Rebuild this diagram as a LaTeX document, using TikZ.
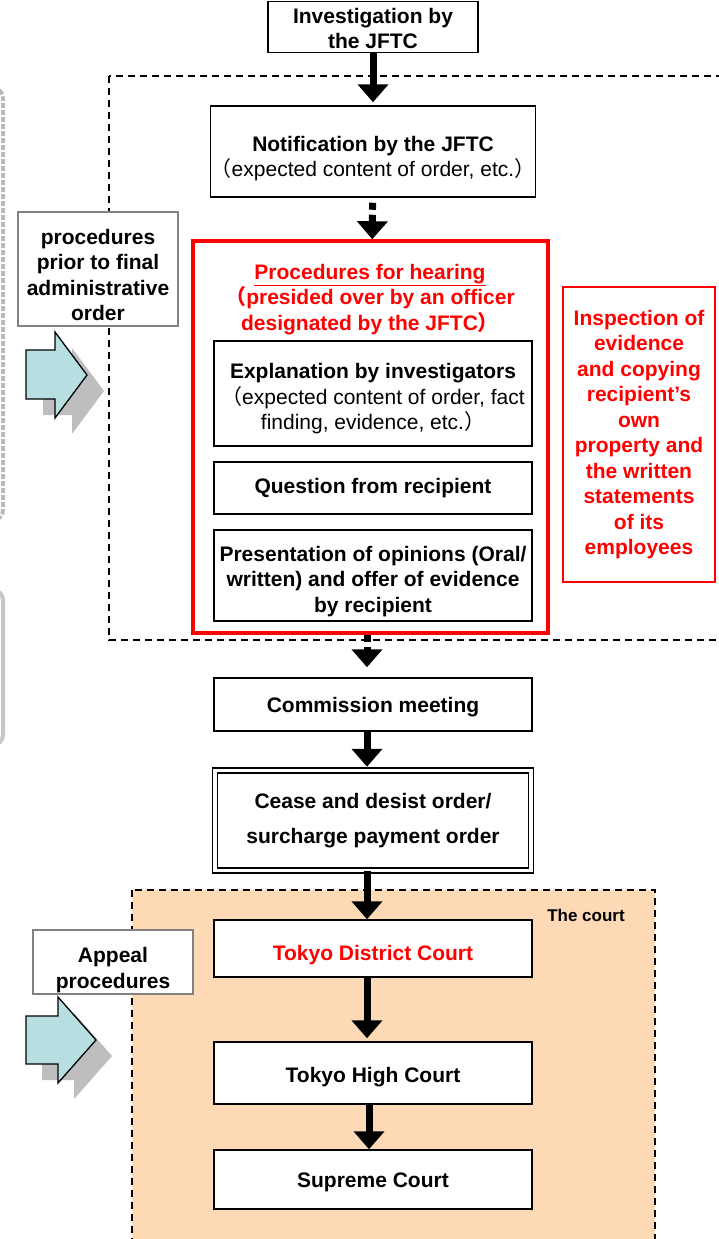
\documentclass[tikz,border=0pt]{standalone}
\usepackage{fontspec}
\setmainfont{Liberation Sans}
\newfontfamily\cjk{Noto Sans CJK JP}
\usetikzlibrary{arrows.meta,positioning}

\definecolor{hearred}{RGB}{255,0,0}
\definecolor{courtbg}{RGB}{253,217,181}
\definecolor{arrowblue}{RGB}{183,222,224}
\definecolor{shadowgray}{RGB}{190,190,190}
\definecolor{edgegray}{RGB}{130,130,130}
\newcommand{\fwlp}{{\cjk （}}
\newcommand{\fwrp}{{\cjk ）}}
\newcommand{\dropstrut}[1]{\rule{0pt}{#1}}

\tikzset{
  stage/.style={draw, line width=1.5pt, fill=white, align=center, minimum width=318pt, inner sep=0pt},
  sidebox/.style={draw=edgegray, line width=1.2pt, fill=white, align=center, inner sep=0pt},
  flow/.style={line width=7pt, -{Triangle[width=30pt,length=18pt]}, shorten >=3pt},
  dotflow/.style={flow, dash pattern=on 7pt off 5pt},
  dashline/.style={dash pattern=on 7pt off 5pt, line width=1.6pt},
}

\begin{document}
\begin{tikzpicture}[x=1pt,y=-1pt,node distance=10pt,on grid,
    font=\fontsize{21}{25.5}\selectfont\bfseries]
  \useasboundingbox (0,0) rectangle (719,1239);

  % frames round the stages
  \begin{scope}
    \clip (0,0) rectangle (719,1239);
    \draw[edgegray!55, line width=4pt, dash pattern=on 5pt off 2pt, rounded corners=10pt] (-40,88) rectangle (3,520);
    \draw[edgegray!45, line width=4pt, rounded corners=10pt] (-40,590) rectangle (3,745);
    \draw[dashline] (109,76) rectangle (740,640);
    \fill[courtbg] (132,890) rectangle (655,1260);
    \draw[dashline] (132,890) rectangle (655,1260);
  \end{scope}

  \node[draw=hearred, line width=3.5pt, minimum width=355pt, minimum height=392pt] (hearing) at (370.5,437) {};
  \node[text=hearred, align=center] (hearingtitle) at (370,297)
    {\dropstrut{20pt}\underline{Procedures for hearing}\\\fwlp presided over by an officer\\designated by the JFTC\fwrp};

  \node[stage, minimum width=210pt, minimum height=51pt] (invest) at (373,27) {\dropstrut{18pt}Investigation by\\the JFTC};
  \node[stage, minimum width=323pt, minimum height=91pt, below=124.5pt of invest] (notif)
    {\dropstrut{29.5pt}Notification by the JFTC\\{\mdseries\fwlp expected content of order, etc.\fwrp}};
  \node[stage, minimum height=105pt, below=242pt of notif] (explain)
    {\dropstrut{25.5pt}Explanation by investigators\\{\mdseries\fwlp expected content of order, fact}\\{\mdseries finding, evidence, etc.\fwrp}};
  \node[stage, minimum height=52pt, below=94.5pt of explain] (question) {Question from recipient};
  \node[stage, minimum height=91pt, below=87.5pt of question] (present)
    {\dropstrut{27pt}Presentation of opinions (Oral/\\written) and offer of evidence\\by recipient};
  \node[stage, minimum height=53pt, below=129pt of present] (commission) {\dropstrut{19.5pt}Commission meeting};
  \node[stage, double, double distance=3.5pt, minimum width=316pt, minimum height=100pt, below=116pt of commission] (cease)
    {Cease and desist order/\\[9.5pt]surcharge payment order};
  \node[stage, minimum height=57pt, text=hearred, below=128pt of cease] (district) {\dropstrut{29pt}Tokyo District Court};
  \node[stage, minimum height=62pt, below=124.5pt of district] (high) {\dropstrut{23pt}Tokyo High Court};
  \node[stage, minimum height=59pt, below=106.5pt of high] (supreme) {\dropstrut{21pt}Supreme Court};

  \node[draw=hearred, line width=1.2pt, text=hearred, align=center, minimum width=152pt, minimum height=295pt] (inspect) at (639,434.5)
    {Inspection of\\evidence\\and copying\\recipient's\\own\\property and\\the written\\statements\\of its\\employees};

  \node[sidebox, minimum width=160pt, minimum height=114pt] (prior) at (98,269)
    {\dropstrut{27pt}procedures\\prior to final\\administrative\\order};
  \node[sidebox, minimum width=160pt, minimum height=64pt] (appeal) at (113,962) {\dropstrut{31pt}Appeal\\procedures};
  \node[font=\fontsize{17}{20}\selectfont\bfseries] (courtlabel) at (586,915) {The court};

  % block arrows with shadow
  \fill[shadowgray, shift={(17,16)}] (26,350) -- (55,350) -- (55,332) -- (87,375) -- (55,418) -- (55,399) -- (26,399) -- cycle;
  \filldraw[fill=arrowblue, line width=1.3pt] (26,350) -- (55,350) -- (55,332) -- (87,375) -- (55,418) -- (55,399) -- (26,399) -- cycle;
  \fill[shadowgray, shift={(16,16)}] (26,1016) -- (58,1016) -- (58,997) -- (96,1040) -- (58,1083) -- (58,1064) -- (26,1064) -- cycle;
  \filldraw[fill=arrowblue, line width=1.3pt] (26,1016) -- (58,1016) -- (58,997) -- (96,1040) -- (58,1083) -- (58,1064) -- (26,1064) -- cycle;

  \draw[flow] (invest) -- (notif);
  \draw[dotflow, dash phase=7pt, shorten >=0pt] (notif) -- (hearing);
  \draw[dotflow, shorten >=10pt] ([xshift=-6pt]commission.north |- hearing.south) -- ([xshift=-6pt]commission.north);
  \draw[flow] ([xshift=-6pt]commission.south) -- ([xshift=-6pt]cease.north);
  \draw[flow, shorten >=0pt] ([xshift=-6pt]cease.south) -- ([xshift=-6pt]district.north);
  \draw[flow] ([xshift=-6pt]district.south) -- ([xshift=-6pt]high.north);
  \draw[flow, shorten >=0pt] ([xshift=-4pt]high.south) -- ([xshift=-4pt]supreme.north);
\end{tikzpicture}
\end{document}
